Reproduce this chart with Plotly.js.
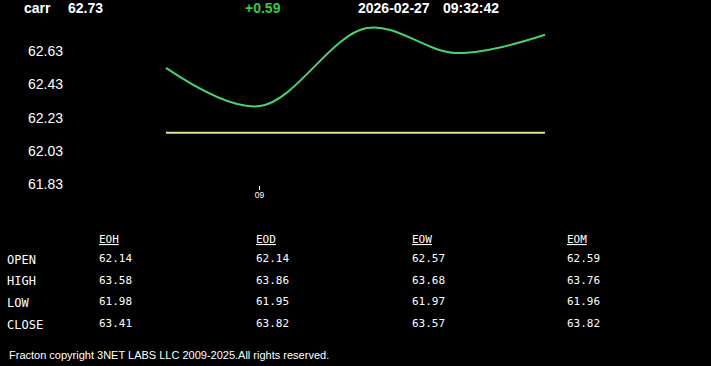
<!DOCTYPE html>
<html>
<head>
<meta charset="utf-8">
<script src="https://cdn.plot.ly/plotly-3.0.1.min.js"></script>
<style>
  html, body { margin: 0; padding: 0; background: #000; }
  #chart { width: 711px; height: 366px; }
</style>
</head>
<body>
<div id="chart"></div>
<script>
// ---- data ----
var symbol = "carr";
var lastPrice = 62.73;
var openPrice = 62.14;
var change = "+0.59";
var quoteDate = "2026-02-27";
var quoteTime = "09:32:42";

var times = ["2026-02-27 08:49:30", "2026-02-27 09:00", "2026-02-27 09:12", "2026-02-27 09:22", "2026-02-27 09:32"];
var prices = [62.53, 62.30, 62.77, 62.62, 62.73];

var yTickVals = [61.83, 62.03, 62.23, 62.43, 62.63];
var xTickVals = ["2026-02-27 09:00"];
var xTickText = ["09"];

var rowLabels = ["OPEN", "HIGH", "LOW", "CLOSE"];
var colLabels = ["EOH", "EOD", "EOW", "EOM"];
var eohVals = ["62.14", "63.58", "61.98", "63.41"];
var eodVals = ["62.14", "63.86", "61.95", "63.82"];
var eowVals = ["62.57", "63.68", "61.97", "63.57"];
var eomVals = ["62.59", "63.76", "61.96", "63.82"];
var footer = "Fracton copyright 3NET LABS LLC 2009-2025.All rights reserved.";

// ---- layout helpers (pixel -> paper) ----
var W = 711, H = 366;
function px(x) { return x / W; }
function py(y) { return 1 - y / H; }

var traces = [
  {
    x: [times[0], times[times.length - 1]],
    y: [openPrice, openPrice],
    mode: "lines",
    line: { color: "#dcea8c", width: 2 },
    hoverinfo: "skip"
  },
  {
    x: times,
    y: prices,
    mode: "lines",
    line: { color: "#46d26c", width: 2, shape: "spline", smoothing: 1 },
    hoverinfo: "skip"
  }
];

var ann = [];
function txt(x, y, text, size, color, family, anchor) {
  ann.push({
    xref: "paper", yref: "paper", x: px(x), y: py(y),
    xanchor: anchor || "left", yanchor: "middle",
    borderpad: 0, borderwidth: 0,
    text: text, showarrow: false,
    font: { size: size, color: color, family: family }
  });
}
var sans = "Liberation Sans, Arial, sans-serif";
var mono = "DejaVu Sans Mono, Liberation Mono, monospace";

txt(23.5, 8.5, "<b>" + symbol + "</b>", 14, "#ffffff", sans);
txt(67.5, 8.5, "<b>" + lastPrice.toFixed(2) + "</b>", 14, "#ffffff", sans);
txt(244.5, 8.5, "<b>" + change + "</b>", 14, "#3cc83c", sans);
txt(358, 8.5, "<b>" + quoteDate + "</b>", 14, "#ffffff", sans);
txt(443, 8.5, "<b>" + quoteTime + "</b>", 14, "#ffffff", sans);

var colX = [99, 256, 412, 567];
var cols = [eohVals, eodVals, eowVals, eomVals];
var labelY = [259.5, 281, 302.5, 324.5];
var valY = [258.5, 280, 301.5, 323.5];
for (var c = 0; c < colLabels.length; c++) {
  txt(colX[c], 239.5, "<u>" + colLabels[c] + "</u>", 11, "#ffffff", mono);
  for (var r = 0; r < rowLabels.length; r++) {
    txt(colX[c], valY[r], cols[c][r], 11, "#ffffff", mono);
  }
}
for (var r2 = 0; r2 < rowLabels.length; r2++) {
  txt(6.5, labelY[r2], rowLabels[r2], 12, "#ffffff", mono);
}
txt(9, 355, footer, 11, "#ffffff", sans);

var layout = {
  width: W, height: H,
  margin: { l: 0, r: 0, t: 0, b: 0 },
  paper_bgcolor: "#000000",
  plot_bgcolor: "#000000",
  showlegend: false,
  xaxis: {
    type: "date",
    domain: [px(64), px(700)],
    range: ["2026-02-27 08:38:04", "2026-02-27 09:49:23"],
    tickvals: xTickVals, ticktext: xTickText,
    ticks: "outside", ticklen: 4, tickcolor: "#ffffff", tickwidth: 1,
    ticklabelstandoff: -2,
    tickfont: { size: 8.5, color: "#ffffff", family: sans },
    showgrid: false, zeroline: false, showline: false,
    automargin: false, fixedrange: true
  },
  yaxis: {
    domain: [py(185), py(20)],
    range: [61.8246, 62.8186],
    tickvals: yTickVals, tickformat: ".2f",
    ticks: "",
    tickfont: { size: 14, color: "#ffffff", family: sans },
    showgrid: false, zeroline: false, showline: false,
    automargin: false, fixedrange: true
  },
  annotations: ann
};

Plotly.newPlot("chart", traces, layout, { displayModeBar: false, staticPlot: true });
</script>
</body>
</html>
